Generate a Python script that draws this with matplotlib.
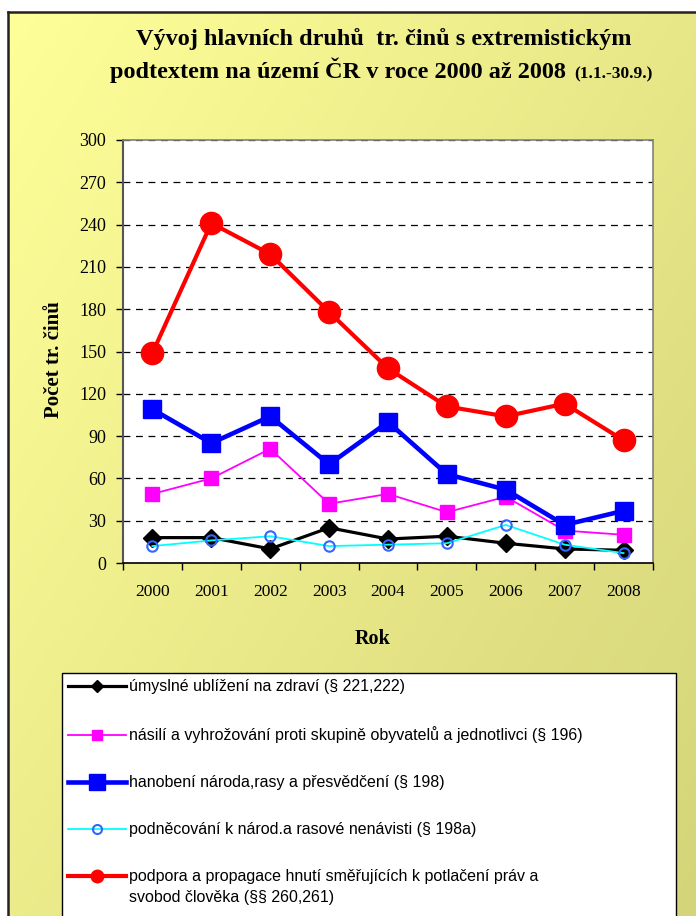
import numpy as np
import matplotlib
matplotlib.use("Agg")
import matplotlib.pyplot as plt
from matplotlib.lines import Line2D
from matplotlib.patches import Rectangle

# data
years = ["2000", "2001", "2002", "2003", "2004", "2005", "2006", "2007", "2008"]
ublizeni = [18, 18, 10, 25, 17, 19, 14, 10, 9]
nasili = [49, 60, 81, 42, 49, 36, 47, 23, 20]
hanobeni = [109, 85, 104, 70, 100, 63, 52, 27, 37]
podnecovani = [12, 16, 19, 12, 13, 14, 27, 13, 7]
podpora = [149, 241, 219, 178, 138, 111, 104, 113, 87]

labels = [
    "úmyslné ublížení na zdraví (§ 221,222)",
    "násilí a vyhrožování proti skupině obyvatelů a jednotlivci (§ 196)",
    "hanobení národa,rasy a přesvědčení (§ 198)",
    "podněcování k národ.a rasové nenávisti (§ 198a)",
    "podpora a propagace hnutí směřujících k potlačení práv a",
]
label_cont = "svobod člověka (§§ 260,261)"
yticks = list(range(0, 301, 30))

# style per series (lms = marker size in the legend)
styles = [
    dict(color="black", lw=2.3, marker="D", ms=9.5, lms=6.5),
    dict(color="#FF00FF", lw=1.3, marker="s", ms=10, lms=7),
    dict(color="#0000FF", lw=3.3, marker="s", ms=13, lms=11),
    dict(color="#00FFFF", lw=1.3, marker="o", ms=7.5, lms=6.5, mfc="none", mec="#3366FF", mew=1.5),
    dict(color="#FF0000", lw=3.0, marker="o", ms=16, lms=9),
]
series = [ublizeni, nasili, hanobeni, podnecovani, podpora]

W, H = 696, 916
fig = plt.figure(figsize=(W / 100, H / 100), dpi=100, facecolor="white")

# background panel with diagonal gradient
bg = fig.add_axes([8 / W, 0, 1 - 8 / W, 1 - 12 / H])
gx, gy = np.meshgrid(np.linspace(0, 1, 200), np.linspace(0, 1, 200))
t = (gx * 0.55 + gy * 0.45)
c0 = np.array([255, 255, 153]) / 255
c1 = np.array([212, 212, 122]) / 255
grad = c0[None, None, :] * (1 - t[..., None]) + c1[None, None, :] * t[..., None]
bg.imshow(grad, aspect="auto", extent=[0, 1, 0, 1], origin="upper")
bg.set_xticks([])
bg.set_yticks([])
for s in ["right", "bottom"]:
    bg.spines[s].set_visible(False)
for s in ["left", "top"]:
    bg.spines[s].set_linewidth(1.8)
    bg.spines[s].set_color("#222222")

ax = fig.add_axes([123 / W, 1 - 563 / H, (653 - 123) / W, (563 - 140) / H])
ax.set_facecolor("white")
x = np.arange(len(years))

handles = []
for i, (vals, st) in enumerate(zip(series, styles)):
    extra = {k: st[k] for k in ("mfc", "mec", "mew") if k in st}
    ax.plot(x, vals, color=st["color"], lw=st["lw"], marker=st["marker"], ms=st["ms"],
            zorder=3 + i, **extra)
    handles.append(Line2D([], [], color=st["color"], lw=st["lw"], marker=st["marker"],
                          ms=st["lms"], **extra))

ax.set_xlim(-0.5, len(years) - 0.5)
ax.set_ylim(0, 300)
ax.set_yticks(yticks)
ax.set_yticklabels([str(v) for v in yticks], fontsize=13, family="Liberation Serif")
ax.yaxis.grid(True, color="black", lw=0.9, linestyle=(0, (5.5, 4.5)))
ax.set_axisbelow(True)

ax.set_xticks(np.arange(-0.5, len(years)), minor=False)
ax.set_xticklabels([])
ax.set_xticks(x, minor=True)
ax.set_xticklabels(years, minor=True, fontsize=12.5, family="Liberation Serif")
ax.tick_params(axis="x", which="minor", length=0, pad=15)
ax.tick_params(axis="x", which="major", length=5, width=1, direction="out")
ax.tick_params(axis="y", length=5, width=1, pad=7)

for s in ["top", "right"]:
    ax.spines[s].set_color("#808080")
    ax.spines[s].set_linewidth(1.2)
ax.spines["left"].set_color("#555555")
ax.spines["left"].set_linewidth(1.5)
ax.spines["bottom"].set_color("black")
ax.spines["bottom"].set_linewidth(1.2)

ax.set_ylabel("Počet tr. činů", fontsize=15, fontweight="bold", family="Liberation Serif")
ax.yaxis.set_label_coords((64 - 123) / 530, (563 - 360) / 423)
fig.text(373 / W, 1 - 639 / H, "Rok", ha="center", va="center", fontsize=14.5,
         fontweight="bold", family="Liberation Serif")

# title
fig.text(384 / W, 1 - 45 / H, "Vývoj hlavních druhů  tr. činů s extremistickým",
         ha="center", va="baseline", fontsize=17.5, fontweight="bold", family="Liberation Serif")
fig.text(566 / W, 1 - 78 / H, "podtextem na území ČR v roce 2000 až 2008",
         ha="right", va="baseline", fontsize=17.5, fontweight="bold", family="Liberation Serif")
fig.text(574 / W, 1 - 78 / H, "(1.1.-30.9.)",
         ha="left", va="baseline", fontsize=12.5, fontweight="bold", family="Liberation Serif")

# legend box (extends past the bottom edge as in the reference)
fig.add_artist(Rectangle((62 / W, -0.02), (676 - 62) / W, 1 - 673 / H + 0.02,
                         transform=fig.transFigure, facecolor="white",
                         edgecolor="black", lw=1.0, zorder=1))
leg = fig.legend(handles, labels, loc="upper left",
                 bbox_to_anchor=(62 / W, 1 - 673 / H),
                 prop={"family": "Liberation Sans", "size": 11.5},
                 frameon=False, borderpad=0.4, handlelength=3.6, handletextpad=0.2,
                 labelspacing=2.0, borderaxespad=0)
leg.set_zorder(2)

fig.canvas.draw()
bb = leg.get_texts()[-1].get_window_extent()
fig.text(bb.x0 / W, (bb.y0 - 21) / H, label_cont, ha="left", va="bottom",
         fontsize=11.5, family="Liberation Sans", zorder=3)

fig.savefig("out.png", dpi=100, facecolor="white")
